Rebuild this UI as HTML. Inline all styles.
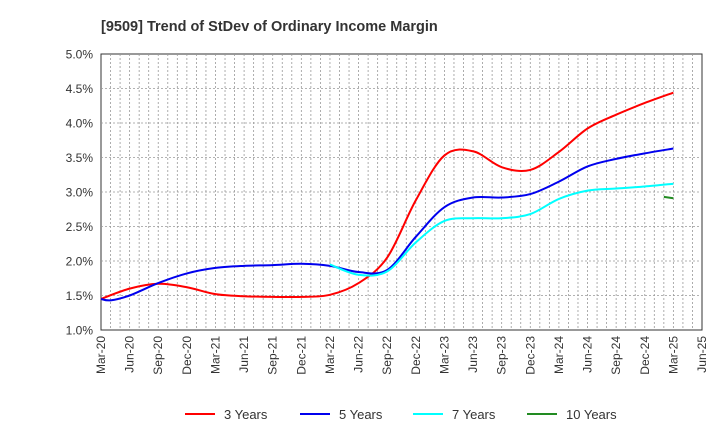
<!DOCTYPE html>
<html><head><meta charset="utf-8"><style>
body{margin:0;background:#fff;font-family:"Liberation Sans",Arial,sans-serif}
</style></head><body>
<svg id="chart" width="720" height="440" xmlns="http://www.w3.org/2000/svg">
<text x="101" y="31" font-size="14.5" font-weight="bold" fill="#333">[9509]  Trend of StDev of Ordinary Income Margin</text>
<rect x="101" y="54" width="601" height="276" fill="#fff" stroke="#333"/>
<g id="grid"></g><g id="axes"></g><g id="series"></g><g id="legend"></g>
</svg>
<script>
const xLabels=["Mar-20","Jun-20","Sep-20","Dec-20","Mar-21","Jun-21","Sep-21","Dec-21","Mar-22","Jun-22","Sep-22","Dec-22","Mar-23","Jun-23","Sep-23","Dec-23","Mar-24","Jun-24","Sep-24","Dec-24","Mar-25","Jun-25"];
const yTicks=[1.0,1.5,2.0,2.5,3.0,3.5,4.0,4.5,5.0];
const months3=[0,3,6,9,12,15,18,21,24,27,30,33,36,39,42,45,48,51,54,57,60];
const y3=[1.45,1.60,1.67,1.62,1.52,1.49,1.48,1.48,1.51,1.68,2.05,2.88,3.53,3.59,3.36,3.32,3.58,3.92,4.12,4.29,4.44];
const months5=[0,1,3,6,9,12,15,18,21,24,27,30,33,36,39,42,45,48,51,54,57,60];
const y5=[1.45,1.43,1.50,1.68,1.82,1.90,1.93,1.94,1.96,1.93,1.84,1.87,2.35,2.78,2.92,2.92,2.97,3.15,3.37,3.48,3.56,3.63];
const months7=[24,27,30,33,36,39,42,45,48,51,54,57,60];
const y7=[1.95,1.80,1.85,2.27,2.58,2.62,2.62,2.68,2.90,3.02,3.05,3.08,3.12];
const months10=[59,60];
const y10=[2.93,2.91];
const NS="http://www.w3.org/2000/svg";
const L=101,R=702,T=54,B=330;
const xS=m=>L+(R-L)*m/63;
const yS=v=>B-(v-1)/4*(B-T);
function mk(t,a,p){const e=document.createElementNS(NS,t);for(const k in a)e.setAttribute(k,a[k]);p.appendChild(e);return e;}
const grid=document.getElementById('grid'),axes=document.getElementById('axes');
for(let m=1;m<63;m++){const l=mk('line',{x1:xS(m),x2:xS(m),y1:T,y2:B,stroke:'#999','stroke-dasharray':'2,2','stroke-width':0.8},grid);

}
yTicks.forEach(v=>{const y=yS(v);
if(v>1&&v<5){const l=mk('line',{x1:L,x2:R,y1:y,y2:y,stroke:'#999','stroke-dasharray':'2,2','stroke-width':0.8},grid);

}
const t=mk('text',{x:93,y:y+4.5,'text-anchor':'end','font-size':12,fill:'#333'},axes);t.textContent=v.toFixed(1)+'%';

});
xLabels.forEach((s,i)=>{const x=xS(i*3);
const t=mk('text',{x:0,y:0,'text-anchor':'end','font-size':12,fill:'#333',transform:`translate(${x+4},336) rotate(-90)`},axes);t.textContent=s;

});
function path(ms,vs){const p=ms.map((m,i)=>[xS(m),yS(vs[i])]);if(p.length<3)return 'M'+p.map(a=>a.join(',')).join('L');
let d='M'+p[0].join(',');for(let i=0;i<p.length-1;i++){const p0=p[i-1]||p[i],p1=p[i],p2=p[i+1],p3=p[i+2]||p2;
d+=`C${p1[0]+(p2[0]-p0[0])/6},${p1[1]+(p2[1]-p0[1])/6} ${p2[0]-(p3[0]-p1[0])/6},${p2[1]-(p3[1]-p1[1])/6} ${p2[0]},${p2[1]}`;}return d;}
const ser=document.getElementById('series');
[[months3,y3,'#ff0000','3 Years','series-3-years'],[months5,y5,'#0000ee','5 Years','series-5-years'],[months7,y7,'#00ffff','7 Years','series-7-years'],[months10,y10,'#228b22','10 Years','series-10-years']].forEach((s,i)=>{
const p=mk('path',{d:path(s[0],s[1]),fill:'none',stroke:s[2],'stroke-width':2},ser);


const lg=document.getElementById('legend');const lx=[185,300,413,527][i];
const ln=mk('line',{x1:lx,x2:lx+30,y1:414,y2:414,stroke:s[2],'stroke-width':2},lg);


const t=mk('text',{x:lx+39,y:419,'font-size':13,fill:'#333'},lg);t.textContent=s[3];

});
</script>
</body></html>
